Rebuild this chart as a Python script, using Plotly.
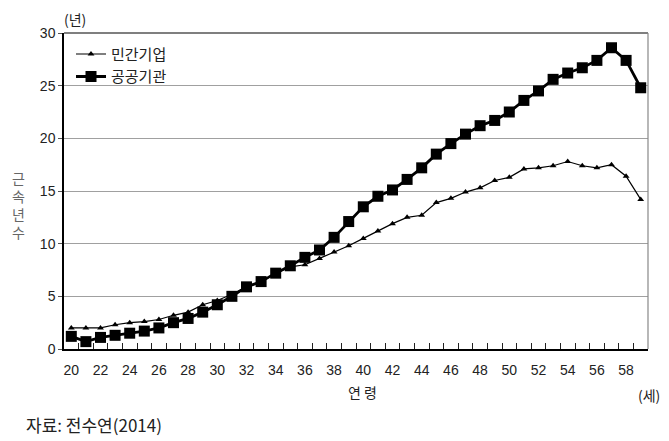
import plotly.graph_objects as go

ages = list(range(20, 60))
private_vals = [2.0, 2.0, 2.0, 2.3, 2.5, 2.6, 2.8, 3.2, 3.5, 4.2,
                4.6, 5.2, 5.9, 6.4, 7.2, 7.8, 8.0, 8.6, 9.2, 9.8,
                10.5, 11.2, 11.9, 12.5, 12.7, 13.9, 14.3, 14.9, 15.3, 16.0,
                16.3, 17.1, 17.2, 17.4, 17.8, 17.4, 17.2, 17.5, 16.4, 14.2]
public_vals = [1.2, 0.7, 1.1, 1.3, 1.5, 1.7, 2.0, 2.5, 2.9, 3.5,
               4.2, 5.0, 5.9, 6.4, 7.2, 7.9, 8.7, 9.4, 10.6, 12.1,
               13.5, 14.5, 15.1, 16.1, 17.2, 18.5, 19.5, 20.4, 21.2, 21.7,
               22.5, 23.6, 24.5, 25.6, 26.2, 26.7, 27.4, 28.6, 27.4, 24.8]
x_labels = list(range(20, 60, 2))
x_boundaries = [a + 0.5 for a in range(20, 59)]
y_ticks = [0, 5, 10, 15, 20, 25, 30]

tick_font = dict(family="Liberation Sans Narrow, Liberation Sans, Arial", size=14, color="#222")
kfont = "Noto Sans CJK KR"

fig = go.Figure()
fig.add_trace(go.Scatter(
    x=ages, y=private_vals, name="민간기업", mode="lines+markers",
    line=dict(color="black", width=1.2),
    marker=dict(symbol="triangle-up", size=6, color="black"),
))
fig.add_trace(go.Scatter(
    x=ages, y=public_vals, name="공공기관", mode="lines+markers",
    line=dict(color="black", width=2.8),
    marker=dict(symbol="square", size=11, color="black"),
))
# invisible helper trace so the label axis is drawn
fig.add_trace(go.Scatter(x=[ages[0]], y=[None], xaxis="x2", mode="lines",
                         showlegend=False, hoverinfo="skip"))

fig.update_layout(
    width=669, height=441,
    margin=dict(l=64, r=21, t=33, b=92),
    paper_bgcolor="white", plot_bgcolor="white",
    showlegend=True,
    legend=dict(x=0.012, y=0.985, xanchor="left", yanchor="top",
                font=dict(family=kfont, size=15, color="#222"),
                bgcolor="rgba(0,0,0,0)", itemwidth=30, tracegroupgap=0),
    xaxis=dict(
        range=[19.5, 59.5], tickmode="array", tickvals=x_boundaries,
        ticktext=["" for _ in x_boundaries], ticks="inside", ticklen=6,
        tickcolor="#222", tickwidth=1,
        showgrid=False, zeroline=False,
        showline=True, linecolor="black", linewidth=1.5,
    ),
    xaxis2=dict(
        range=[19.5, 59.5], overlaying="x", side="bottom", anchor="y",
        tickmode="array", tickvals=x_labels,
        ticktext=[str(v) for v in x_labels], ticks="outside", ticklen=8,
        tickcolor="rgba(0,0,0,0)", tickfont=tick_font,
        showgrid=False, zeroline=False, showline=False,
    ),
    yaxis=dict(
        range=[0, 30], tickmode="array", tickvals=y_ticks,
        ticks="outside", ticklen=4, tickcolor="#555",
        tickfont=tick_font, showgrid=True, gridcolor="#a0a0a0", gridwidth=1,
        zeroline=False, showline=True, linecolor="black", linewidth=1.5,
    ),
    shapes=[
        dict(type="line", xref="paper", yref="paper", x0=0, x1=1, y0=1, y1=1,
             line=dict(color="black", width=1.2)),
        dict(type="line", xref="paper", yref="paper", x0=1, x1=1, y0=0, y1=1,
             line=dict(color="#888", width=1.2)),
    ],
    annotations=[
        dict(text="(년)", xref="paper", yref="paper", x=0.0, y=1.0, xanchor="left",
             yanchor="bottom", yshift=2, xshift=-2, showarrow=False,
             font=dict(family=kfont, size=14, color="#222")),
        dict(text="근<br>속<br>년<br>수", xref="paper", yref="paper", x=0, y=0.5,
             xanchor="center", yanchor="middle", xshift=-46, yshift=-14, showarrow=False,
             font=dict(family=kfont, size=14, color="#666"), height=84, valign="middle"),
        dict(text="연 령", xref="paper", yref="paper", x=0.5, y=0,
             xanchor="center", yanchor="top", yshift=-31, xshift=6, showarrow=False,
             font=dict(family=kfont, size=14, color="#222")),
        dict(text="(세)", xref="paper", yref="paper", x=1.0, y=0,
             xanchor="center", yanchor="top", yshift=-34, xshift=1, showarrow=False,
             font=dict(family=kfont, size=14, color="#222")),
        dict(text="자료: 전수연(2014)", xref="paper", yref="paper", x=0, y=0,
             xanchor="left", yanchor="top", yshift=-61, xshift=-40, showarrow=False,
             font=dict(family=kfont, size=17, color="#222")),
    ],
)

fig.write_html("out.html")
